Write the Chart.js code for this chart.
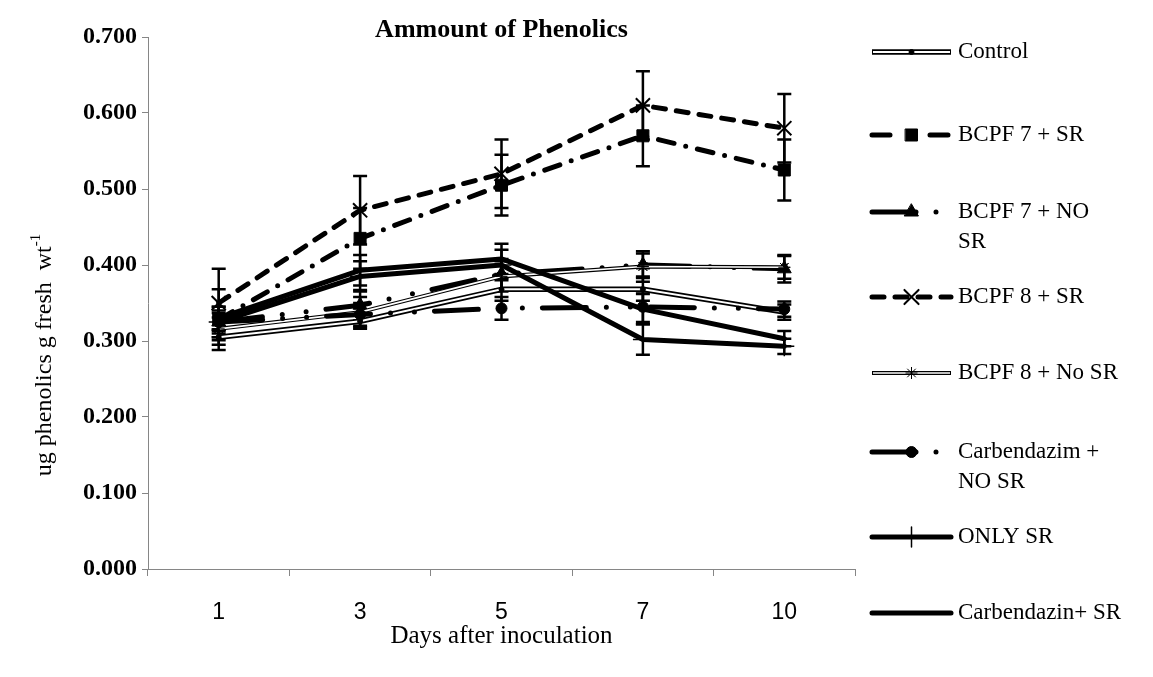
<!DOCTYPE html>
<html><head><meta charset="utf-8">
<script src="https://cdn.jsdelivr.net/npm/chart.js@4/dist/chart.umd.min.js"></script>
<style>html,body{margin:0;padding:0;background:#fff}#wrap{position:relative;width:1153px;height:677px}</style>
</head><body><div id="wrap"><canvas id="c" width="1153" height="677"></canvas></div>
<script>
// ---- data ----
const days = ['1', '3', '5', '7', '10'];
const yTicks = [0, 0.1, 0.2, 0.3, 0.4, 0.5, 0.6, 0.7];
const seriesNames = ['Control', 'BCPF 7 + SR', 'BCPF 7 + NO|SR', 'BCPF 8 + SR', 'BCPF 8 + No SR', 'Carbendazim +|NO SR', 'ONLY SR', 'Carbendazin+ SR'];
const control        = [0.305, 0.326, 0.368, 0.368, 0.338];
const bcpf7SR        = [0.328, 0.435, 0.505, 0.570, 0.525];
const bcpf7NoSR      = [0.325, 0.347, 0.388, 0.400, 0.395];
const bcpf8SR        = [0.350, 0.472, 0.520, 0.610, 0.580];
const bcpf8NoSR      = [0.316, 0.338, 0.385, 0.398, 0.397];
const carbNoSR       = [0.325, 0.335, 0.343, 0.345, 0.342];
const onlySR         = [0.325, 0.385, 0.400, 0.302, 0.293];
const carbSR         = [0.330, 0.393, 0.408, 0.342, 0.303];
const errControl     = [0.010, 0.010, 0.015, 0.015, 0.010];
const errBcpf7SR     = [0.040, 0.040, 0.040, 0.040, 0.040];
const errBcpf7NoSR   = [0.012, 0.020, 0.020, 0.015, 0.018];
const errBcpf8SR     = [0.045, 0.045, 0.045, 0.045, 0.045];
const errBcpf8NoSR   = [0.015, 0.020, 0.020, 0.020, 0.015];
const errCarbNoSR    = [0.020, 0.015, 0.015, 0.020, 0.010];
const errOnlySR      = [0.015, 0.020, 0.020, 0.020, 0.010];
const errCarbSR      = [0.015, 0.020, 0.020, 0.020, 0.010];

const SERIF = '"Liberation Serif", "Times New Roman", serif';
const SANS = '"Liberation Sans", Arial, sans-serif';

function ds(label, data, err, opt) {
  return Object.assign({
    label, data, err,
    borderColor: '#000', backgroundColor: '#000',
    pointBackgroundColor: '#000', pointBorderColor: '#000',
    borderWidth: 5, borderCapStyle: 'round', borderJoinStyle: 'round',
    pointBorderWidth: 1, tension: 0, fill: false
  }, opt);
}

const datasets = [
  ds(seriesNames[0], control, errControl, {borderWidth: 5.5, double: 2, pointStyle: 'circle', pointRadius: 2.5, borderCapStyle: 'butt'}),
  ds(seriesNames[1], bcpf7SR, errBcpf7SR, {borderDash: [16, 12, 0, 12], legendDash: [18, 40], pointStyle: 'rect', pointRadius: 8.5}),
  ds(seriesNames[2], bcpf7NoSR, errBcpf7NoSR, {borderDash: [44, 20, 0, 24, 0, 20], pointStyle: 'triangle', pointRadius: 8}),
  ds(seriesNames[3], bcpf8SR, errBcpf8SR, {borderDash: [12, 11], pointStyle: 'crossRot', pointRadius: 10, pointBorderWidth: 2}),
  ds(seriesNames[4], bcpf8NoSR, errBcpf8NoSR, {borderWidth: 4, double: 1.6, pointStyle: 'star', pointRadius: 6, pointBorderWidth: 1, borderCapStyle: 'butt'}),
  ds(seriesNames[5], carbNoSR, errCarbNoSR, {borderDash: [44, 20, 0, 24, 0, 20], pointStyle: 'circle', pointRadius: 5.5}),
  ds(seriesNames[6], onlySR, errOnlySR, {pointStyle: 'cross', pointRadius: 10, pointBorderWidth: 1.5}),
  ds(seriesNames[7], carbSR, errCarbSR, {pointRadius: 0})
];
datasets.forEach((d, i) => d.order = -i);

const legendY = [52, 135, 212, 297, 373, 452, 537, 613];

const decor = {
  id: 'decor',
  beforeDatasetsDraw(chart) {
    const ctx = chart.ctx, ys = chart.scales.y;
    ctx.save();
    ctx.strokeStyle = '#000';
    ctx.lineWidth = 2.5;
    chart.data.datasets.forEach((d, di) => {
      const meta = chart.getDatasetMeta(di);
      if (!d.err) return;
      meta.data.forEach((p, i) => {
        const v = d.data[i], e = d.err[i];
        const t = ys.getPixelForValue(v + e), b = ys.getPixelForValue(v - e);
        ctx.beginPath();
        ctx.moveTo(p.x, t); ctx.lineTo(p.x, b);
        ctx.moveTo(p.x - 7, t); ctx.lineTo(p.x + 7, t);
        ctx.moveTo(p.x - 7, b); ctx.lineTo(p.x + 7, b);
        ctx.stroke();
      });
    });
    ctx.restore();
  },
  afterDatasetDraw(chart, args) {
    const d = chart.data.datasets[args.index];
    if (!d.double) return;
    const ctx = chart.ctx, meta = args.meta;
    ctx.save();
    ctx.strokeStyle = '#fff';
    ctx.lineWidth = d.double;
    ctx.lineJoin = 'round';
    ctx.beginPath();
    meta.data.forEach((p, i) => i ? ctx.lineTo(p.x, p.y) : ctx.moveTo(p.x, p.y));
    ctx.stroke();
    ctx.restore();
    meta.data.forEach(p => p.draw(ctx, chart.chartArea));
  },
  afterDraw(chart) {
    const ctx = chart.ctx, ca = chart.chartArea;
    ctx.save();
    ctx.fillStyle = '#000';
    // title
    ctx.font = 'bold 26px ' + SERIF;
    ctx.textAlign = 'center'; ctx.textBaseline = 'middle';
    ctx.fillText('Ammount of Phenolics', (ca.left + ca.right) / 2, 30);
    // x title
    ctx.font = '25px ' + SERIF;
    ctx.fillText('Days after inoculation', (ca.left + ca.right) / 2, 636);
    // y title with superscript
    ctx.save();
    ctx.translate(45, 355);
    ctx.rotate(-Math.PI / 2);
    const main = 'ug phenolics g fresh  wt', sup = '-1';
    ctx.font = '24px ' + SERIF;
    const w1 = ctx.measureText(main).width;
    ctx.font = '15px ' + SERIF;
    const w2 = ctx.measureText(sup).width;
    const x0 = -(w1 + w2) / 2;
    ctx.textAlign = 'left';
    ctx.font = '24px ' + SERIF;
    ctx.fillText(main, x0, 0);
    ctx.font = '15px ' + SERIF;
    ctx.fillText(sup, x0 + w1, -9);
    ctx.restore();
    // legend
    const lx0 = 872, lx1 = 951, tx = 958;
    chart.data.datasets.forEach((d, i) => {
      const y = legendY[i];
      ctx.save();
      ctx.strokeStyle = '#000';
      ctx.lineWidth = d.borderWidth;
      ctx.lineCap = d.borderCapStyle || 'butt';
      ctx.setLineDash(d.legendDash || d.borderDash || []);
      ctx.beginPath(); ctx.moveTo(lx0, y); ctx.lineTo(lx1, y); ctx.stroke();
      ctx.setLineDash([]);
      if (d.double) {
        ctx.strokeStyle = '#fff'; ctx.lineWidth = d.double; ctx.lineCap = 'butt';
        ctx.beginPath(); ctx.moveTo(lx0 + 1, y); ctx.lineTo(lx1 - 1, y); ctx.stroke();
      }
      if (d.pointRadius > 0) {
        ctx.fillStyle = '#000'; ctx.strokeStyle = '#000';
        ctx.lineWidth = d.pointBorderWidth;
        Chart.helpers.drawPoint(ctx, {pointStyle: d.pointStyle, radius: d.pointRadius, rotation: 0, borderWidth: d.pointBorderWidth}, (lx0 + lx1) / 2, y);
      }
      ctx.restore();
      ctx.font = '23px ' + SERIF;
      ctx.textAlign = 'left'; ctx.textBaseline = 'middle';
      ctx.fillStyle = '#000';
      d.label.split('|').forEach((ln, k) => ctx.fillText(ln, tx, y + k * 30));
    });
    ctx.restore();
  }
};

new Chart(document.getElementById('c'), {
  type: 'line',
  data: {labels: days, datasets},
  options: {
    responsive: false, animation: false, devicePixelRatio: 1,
    layout: {padding: {left: 0, right: 298, top: 37, bottom: 0}},
    plugins: {legend: {display: false}, title: {display: false}, tooltip: {enabled: false}},
    scales: {
      x: {
        offset: true,
        grid: {offset: true, drawOnChartArea: false, tickLength: 7, color: '#868686'},
        border: {color: '#868686', width: 1},
        ticks: {font: {family: SANS, size: 23}, color: '#000', padding: 23},
        afterFit(s) { s.height = 108; }
      },
      y: {
        min: 0, max: 0.7,
        afterBuildTicks(s) { s.ticks = yTicks.map(v => ({value: v})); },
        ticks: {font: {family: SERIF, size: 24, weight: 'bold'}, color: '#000', padding: 5,
                callback: v => Number(v).toFixed(3)},
        grid: {drawOnChartArea: false, tickLength: 6, color: '#868686'},
        border: {color: '#868686', width: 1},
        afterFit(s) { s.width = 148; }
      }
    }
  },
  plugins: [decor]
});
</script></body></html>
